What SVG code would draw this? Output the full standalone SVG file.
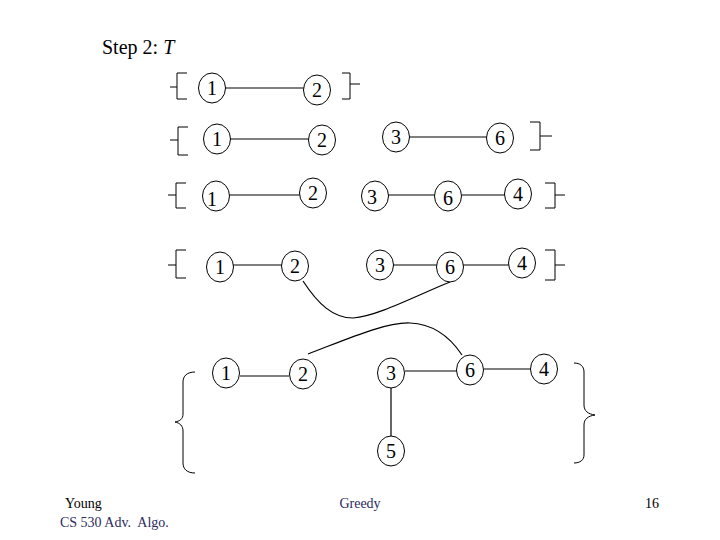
<svg xmlns="http://www.w3.org/2000/svg" width="720" height="540" viewBox="0 0 720 540">
<style>
.n ellipse{fill:#fff;stroke:#000;stroke-width:1}
.n text{font-family:"Liberation Serif",serif;font-size:20px;text-anchor:middle;fill:#000}
.c path,.c line{fill:none;stroke:#000;stroke-width:1.2}
.b path{fill:none;stroke:#000;stroke-width:1}
.t{font-family:"Liberation Serif",serif}
</style>
<rect width="720" height="540" fill="#fff"/>
<text class="t" x="102" y="54" font-size="20">Step 2: <tspan font-style="italic">T</tspan></text>

<g class="c" id="connectors">
<line x1="225" y1="88" x2="304" y2="88"/>
<line x1="230" y1="139" x2="309" y2="139"/>
<line x1="409" y1="137" x2="487" y2="137"/>
<line x1="229" y1="195" x2="300" y2="195"/>
<line x1="388" y1="195" x2="435" y2="195"/>
<line x1="462" y1="195" x2="505" y2="195"/>
<line x1="233" y1="265" x2="282" y2="265"/>
<line x1="393" y1="265" x2="437" y2="265"/>
<line x1="463" y1="265" x2="509" y2="265"/>
<path d="M303,281 C318,304 333,318 353,318 C378,316 415,296 450,282"/>
<line x1="240" y1="376" x2="289" y2="376"/>
<line x1="405" y1="371" x2="457" y2="371"/>
<line x1="484" y1="369" x2="531" y2="369"/>
<line x1="391" y1="388" x2="391" y2="437"/>
<path d="M308,354 C345,340 385,322 410,323 C435,324 452,340 462,355"/>
</g>

<g class="b" id="brackets">
<path d="M187,73 H177 V99 H187 M177,87 H170"/>
<path d="M342,73 H350 V99 H342 M350,84 H360"/>
<path d="M188,127 H178 V155 H188 M178,140 H170"/>
<path d="M530,122 H540 V150 H530 M540,136 H552"/>
<path d="M186,183 H176 V208 H186 M176,195 H168"/>
<path d="M545,183 H555 V208 H545 M555,195 H565"/>
<path d="M186,250 H176 V278 H186 M176,265 H168"/>
<path d="M545,250 H555 V280 H545 M555,265 H565"/>
<path d="M195,372 C187,372 183,376 183,382 V414 C183,419 180,421 175,422 C180,423 183,426 183,431 V463 C183,469 187,473 195,473"/>
<path d="M574,363 C580,363 584,366 584,372 V405 C584,411 588,414 595,415 C588,416 584,419 584,425 V455 C584,460 580,463 574,463"/>
</g>

<g class="n" id="r1n1"><ellipse cx="212" cy="88" rx="13.5" ry="15"/><text x="212" y="95">1</text></g>
<g class="n" id="r1n2"><ellipse cx="317" cy="90" rx="13.5" ry="15"/><text x="317" y="97">2</text></g>

<g class="n" id="r2n1"><ellipse cx="217" cy="139" rx="13.5" ry="15"/><text x="217" y="146">1</text></g>
<g class="n" id="r2n2"><ellipse cx="322" cy="140" rx="13.5" ry="15"/><text x="322" y="147">2</text></g>
<g class="n" id="r2n3"><ellipse cx="396" cy="137" rx="13.5" ry="15"/><text x="396" y="144">3</text></g>
<g class="n" id="r2n6"><ellipse cx="500" cy="138" rx="13.5" ry="15"/><text x="500" y="145">6</text></g>

<g class="n" id="r3n1"><ellipse cx="216" cy="196" rx="13.5" ry="15"/><text x="212" y="206">1</text></g>
<g class="n" id="r3n2"><ellipse cx="313" cy="193" rx="13.5" ry="15"/><text x="313" y="200">2</text></g>
<g class="n" id="r3n3"><ellipse cx="375" cy="196" rx="13.5" ry="15"/><text x="372" y="204">3</text></g>
<g class="n" id="r3n6"><ellipse cx="448" cy="196" rx="13.5" ry="15"/><text x="448" y="205">6</text></g>
<g class="n" id="r3n4"><ellipse cx="518" cy="194" rx="13.5" ry="15"/><text x="518" y="201">4</text></g>

<g class="n" id="r4n1"><ellipse cx="220" cy="267" rx="13.5" ry="15"/><text x="220" y="274">1</text></g>
<g class="n" id="r4n2"><ellipse cx="295" cy="266" rx="13.5" ry="15"/><text x="295" y="273">2</text></g>
<g class="n" id="r4n3"><ellipse cx="380" cy="265" rx="13.5" ry="15"/><text x="380" y="272">3</text></g>
<g class="n" id="r4n6"><ellipse cx="450" cy="267" rx="13.5" ry="15"/><text x="450" y="274">6</text></g>
<g class="n" id="r4n4"><ellipse cx="522" cy="263" rx="13.5" ry="15"/><text x="522" y="270">4</text></g>

<g class="n" id="r5n1"><ellipse cx="226" cy="373" rx="13.5" ry="15"/><text x="226" y="380">1</text></g>
<g class="n" id="r5n2"><ellipse cx="303" cy="374" rx="13.5" ry="15"/><text x="303" y="381">2</text></g>
<g class="n" id="r5n3"><ellipse cx="391" cy="373" rx="13.5" ry="15"/><text x="391" y="380">3</text></g>
<g class="n" id="r5n6"><ellipse cx="470" cy="370" rx="13.5" ry="15"/><text x="470" y="377">6</text></g>
<g class="n" id="r5n4"><ellipse cx="544" cy="369" rx="13.5" ry="15"/><text x="544" y="376">4</text></g>
<g class="n" id="r5n5"><ellipse cx="391" cy="451" rx="13.5" ry="15"/><text x="391" y="458">5</text></g>

<text class="t" x="65" y="508" font-size="14" fill="#000">Young</text>
<text class="t" x="60" y="527" font-size="14" fill="#2b2b5e" style="white-space:pre" xml:space="preserve">CS 530 Adv.  Algo.</text>
<text class="t" x="360" y="508" font-size="14" fill="#2b2b5e" text-anchor="middle">Greedy</text>
<text class="t" x="652" y="508" font-size="14" fill="#000" text-anchor="middle">16</text>
</svg>
